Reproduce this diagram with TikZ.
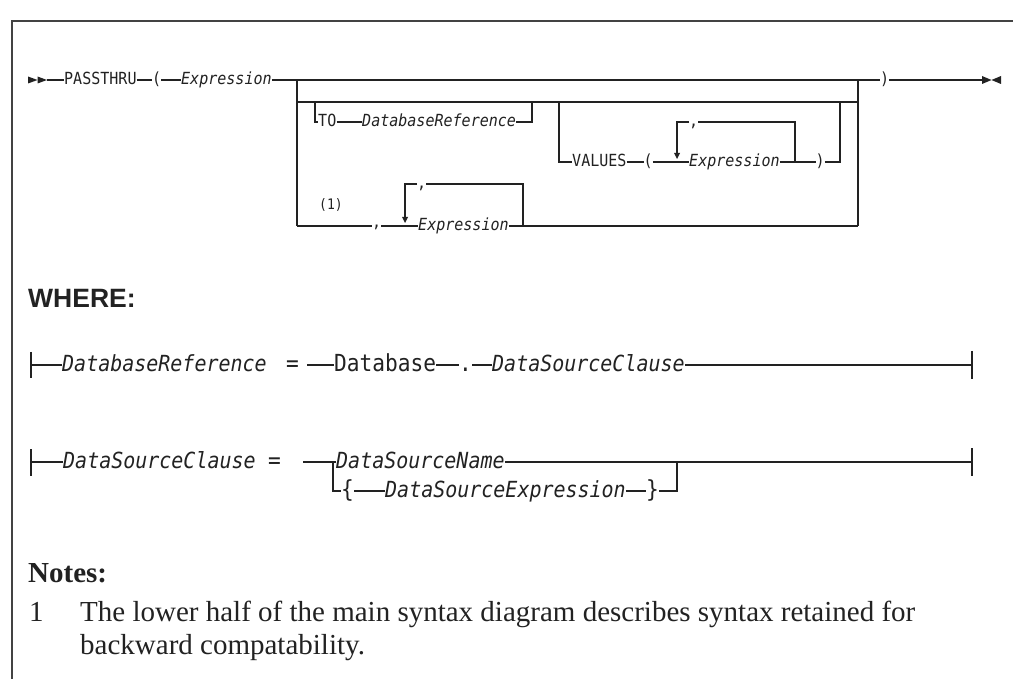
\documentclass[tikz,border=0pt]{standalone}
\usepackage{fontspec}
\setmainfont{Liberation Serif}
\newfontfamily\rrmono[FakeStretch=0.9]{DejaVu Sans Mono}
\newfontfamily\hdfont{Liberation Sans}
\definecolor{ink}{HTML}{222222}
\begin{document}
\begin{tikzpicture}[x=1pt,y=-1pt]
\tikzset{
  wire/.style={draw=ink, line width=1.3pt},
  frame/.style={draw=ink!85, line width=1.8pt},
  tipfill/.style={fill=ink},
  kw/.style={inner sep=0pt, text height=9.1pt, text depth=0pt, anchor=west, text=ink,
             font=\fontsize{16.7}{16.7}\selectfont\rrmono},
  var/.style={kw, font=\fontsize{16.7}{16.7}\selectfont\rrmono\itshape},
  kwb/.style={inner sep=0pt, text height=12.1pt, text depth=0pt, anchor=west, text=ink,
             font=\fontsize{23.5}{23.5}\selectfont\rrmono},
  varb/.style={kwb, font=\fontsize{22.2}{22.2}\selectfont\rrmono\itshape},
  head/.style={inner sep=0pt, anchor=west, text=ink},
  note/.style={inner sep=0pt, anchor=base west, text=ink, font=\fontsize{29}{33}\selectfont},
}
\useasboundingbox (0,0) rectangle (1013,679);
\fill[white] (0,0) rectangle (1013,679);
% frame
\draw[frame] (1013,21) -- (12,21) -- (12,679);

% ---------- main diagram ----------
\fill[tipfill] (28,76.5) -- (37.5,80) -- (28,83.5) -- cycle;
\fill[tipfill] (37.5,76.5) -- (47,80) -- (37.5,83.5) -- cycle;
\coordinate (st) at (47,80);
\node[kw] (pass) at (64,80) {PASSTHRU};
\node[kw] (lp) at (152,80) {(};
\node[var] (ex1) at (181,80) {Expression};
\coordinate (ja) at (297,80);
\coordinate (jb) at (858,80);
\node[kw] (rp) at (880,80) {)};
\coordinate (en) at (982,80);
\fill[tipfill] (982,76) -- (991.5,80) -- (982,84) -- cycle;
\fill[tipfill] (1001,76) -- (991.5,80) -- (1001,84) -- cycle;
\draw[wire] (st) -- (pass.west);
\draw[wire] (pass.east) -- (lp.west);
\draw[wire] (lp.east) -- (ex1.west);
\draw[wire] (ex1.east) -- (jb);
\draw[wire] (jb) -- (rp.west);
\draw[wire] (rp.east) -- (en);

\coordinate (jc) at (297,102);
\coordinate (jd) at (858,102);
\coordinate (je) at (297,226);
\coordinate (jf) at (858,226);
\draw[wire] (ja) -- (je);
\draw[wire] (jb) -- (jf);
\draw[wire] (jc) -- (jd);

% TO branch
\coordinate (ta) at (315,102);
\node[kw] (to) at (318,122) {TO};
\node[var] (dbr) at (362,122) {DatabaseReference};
\coordinate (tb) at (532,102);
\draw[wire] (ta) |- (to.west);
\draw[wire] (to.east) -- (dbr.west);
\draw[wire] (dbr.east) -| (tb);

% VALUES branch
\coordinate (va) at (559,102);
\node[kw] (val) at (572,162) {VALUES};
\node[kw] (lp2) at (643.5,162) {(};
\node[var] (ex2) at (689,162) {Expression};
\coordinate (lb) at (795,162);
\node[kw] (rp2) at (815.5,162) {)};
\coordinate (vb) at (840,102);
\draw[wire] (va) |- (val.west);
\draw[wire] (val.east) -- (lp2.west);
\draw[wire] (lp2.east) -- (ex2.west);
\draw[wire] (ex2.east) -- (rp2.west);
\draw[wire] (rp2.east) -| (vb);
% repeat loop
\node[kw] (c2) at (689,122) {,};
\coordinate (ah2) at (677,153);
\draw[wire] (lb) |- (c2.east);
\draw[wire] (c2.west) -| (ah2);
\fill[tipfill] (674,153) -- (680,153) -- (677,159) -- cycle;

% lower (compatibility) branch
\node[kw] (n1) at (319,205) {\fontsize{14.5}{14.5}\selectfont(1)};
\node[kw] (c1) at (372,226) {\raisebox{3pt}{,}};
\node[var] (ex3) at (418,226) {Expression};
\coordinate (lc) at (523,226);
\draw[wire] (je) -- (c1.west);
\draw[wire] (c1.east) -- (ex3.west);
\draw[wire] (ex3.east) -- (jf);
\node[kw] (c3) at (417,184) {,};
\coordinate (ah3) at (405,217);
\draw[wire] (lc) |- (c3.east);
\draw[wire] (c3.west) -| (ah3);
\fill[tipfill] (402,217) -- (408,217) -- (405,223) -- cycle;

% ---------- WHERE ----------
\node[head, font=\hdfont\bfseries\fontsize{26.5}{26.5}\selectfont] (wh) at (28,298) {WHERE:};

% DatabaseReference
\coordinate (r1a) at (31,365);
\coordinate (r1a1) at (31,352);
\coordinate (r1a2) at (31,378);
\node[varb] (dbr2) at (62,365) {DatabaseReference};
\node[kwb] (eq1) at (286,365) {=};
\coordinate (r1c) at (307,365);
\node[kwb] (db) at (334,365) {Database};
\node[kwb] (dot) at (459,365) {.};
\node[varb] (dsc) at (492,365) {DataSourceClause};
\coordinate (r1b) at (972,365);
\coordinate (r1b1) at (972,351);
\coordinate (r1b2) at (972,379);
\draw[wire] (r1a1) -- (r1a2);
\draw[wire] (r1a) -- (dbr2.west);
\draw[wire] (r1c) -- (db.west);
\draw[wire] (db.east) -- (dot.west);
\draw[wire] (dot.east) -- (dsc.west);
\draw[wire] (dsc.east) -- (r1b);
\draw[wire] (r1b1) -- (r1b2);

% DataSourceClause
\coordinate (r2a) at (31,462);
\coordinate (r2a1) at (31,449);
\coordinate (r2a2) at (31,476);
\node[varb] (dsc2) at (63,462) {DataSourceClause};
\node[kwb] (eq2) at (268,462) {=};
\coordinate (r2c) at (303,462);
\coordinate (r2j) at (333,462);
\node[varb] (dsn) at (336,462) {DataSourceName};
\node[kwb] (lb2) at (341,491) {\{};
\node[varb] (dse) at (385,491) {DataSourceExpression};
\node[kwb] (rb2) at (646,491) {\}};
\coordinate (r2k) at (677,462);
\coordinate (r2b) at (972,462);
\coordinate (r2b1) at (972,448);
\coordinate (r2b2) at (972,476);
\draw[wire] (r2a1) -- (r2a2);
\draw[wire] (r2a) -- (dsc2.west);
\draw[wire] (r2c) -- (dsn.west);
\draw[wire] (dsn.east) -- (r2b);
\draw[wire] (r2j) |- (lb2.west);
\draw[wire] (lb2.east) -- (dse.west);
\draw[wire] (dse.east) -- (rb2.west);
\draw[wire] (rb2.east) -| (r2k);
\draw[wire] (r2b1) -- (r2b2);

% ---------- Notes ----------
\node[head, anchor=base west, font=\bfseries\fontsize{29}{29}\selectfont] (notes) at (28,582) {Notes:};
\node[note] (nnum) at (29,621) {1};
\node[note] (nl1) at (80,621) {The lower half of the main syntax diagram describes syntax retained for};
\node[note] (nl2) at (80,654) {backward compatability.};
\end{tikzpicture}
\end{document}
